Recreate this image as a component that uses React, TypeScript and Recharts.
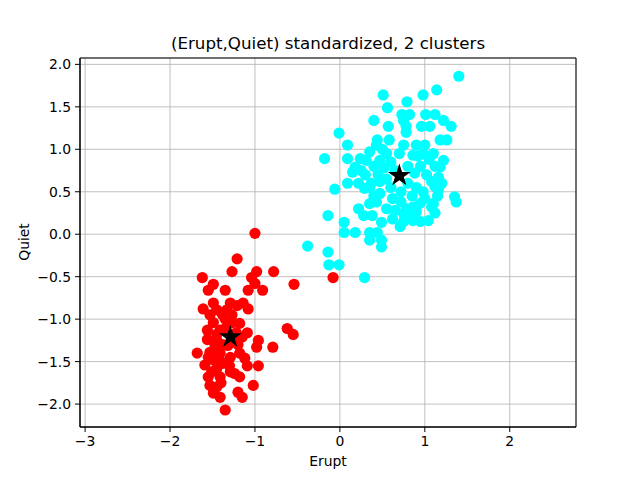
import React from 'react';
import {
  ScatterChart, Scatter, XAxis, YAxis, CartesianGrid, ReferenceArea,
} from 'recharts';

// standardized (Erupt, Quiet) pairs
const redPairs: [number, number][] = [
  [-1.21, -0.29], [-1.62, -0.51], [-1.27, -0.44], [-0.98, -0.44], [-0.78, -0.44],
  [-1.04, -0.51], [-1.49, -0.59], [-1.0, -0.58], [-0.54, -0.59], [-1.55, -0.66],
  [-1.35, -0.66], [-1.08, -0.66], [-0.91, -0.66], [-1.49, -0.81], [-1.29, -0.81],
  [-1.14, -0.81], [-1.61, -0.88], [-1.45, -0.89], [-1.33, -0.89], [-1.21, -0.84],
  [-1.08, -0.88], [-1.53, -0.95], [-1.38, -0.95], [-1.49, -1.04], [-1.26, -1.04],
  [-1.35, -1.11], [-0.62, -1.11], [-0.55, -1.18], [-1.09, -1.16], [-1.15, -1.21],
  [-1.56, -1.24], [-0.96, -1.25], [-1.45, -1.25], [-0.98, -1.33], [-0.79, -1.33],
  [-1.68, -1.4], [-1.53, -1.39], [-1.41, -1.4], [-1.29, -1.45], [-1.18, -1.4],
  [-1.12, -1.46], [-1.49, -1.48], [-1.38, -1.52], [-1.09, -1.55], [-0.96, -1.55],
  [-1.45, -1.58], [-1.29, -1.62], [-1.24, -1.64], [-1.18, -1.68], [-1.55, -1.68],
  [-1.41, -1.68], [-1.53, -1.78], [-1.45, -1.8], [-1.02, -1.78], [-1.2, -1.86],
  [-1.49, -1.87], [-1.41, -1.92], [-1.15, -1.92], [-1.35, -2.07], [-1.0, 0.01],
  [-0.08, -0.51], [-1.56, -1.13], [-1.47, -1.31], [-1.32, -1.31], [-1.24, -1.25],
  [-1.41, -1.13], [-1.59, -1.54], [-1.51, -1.62], [-1.45, -1.18], [-1.38, -1.3],
  [-1.2, -1.3], [-1.35, -1.0], [-1.18, -1.05], [-1.55, -1.45], [-1.3, -1.55],
  [-1.4, -1.75], [-1.27, -0.95], [-1.42, -1.47], [-1.22, -1.16],
];

const cyanPairs: [number, number][] = [
  [1.4, 1.86], [1.14, 1.7], [0.51, 1.64], [0.98, 1.64], [0.79, 1.56], [0.56, 1.49],
  [0.73, 1.41], [0.82, 1.41], [1.01, 1.41], [1.12, 1.41], [0.4, 1.34], [0.75, 1.34],
  [1.22, 1.34], [0.57, 1.27], [0.78, 1.27], [0.96, 1.27], [1.06, 1.27], [1.31, 1.27],
  [-0.01, 1.19], [0.78, 1.2], [0.44, 1.11], [0.58, 1.11], [1.18, 1.11], [1.26, 1.11],
  [0.09, 1.05], [0.43, 1.05], [0.75, 1.05], [0.9, 1.05], [1.0, 1.05], [-0.18, 0.89],
  [0.09, 0.89], [0.24, 0.89], [0.35, 0.97], [0.55, 0.95], [0.86, 0.93], [0.98, 0.95],
  [1.1, 0.95], [0.18, 0.79], [0.31, 0.87], [0.47, 0.87], [1.22, 0.87], [1.18, 0.79],
  [-0.06, 0.53], [0.09, 0.6], [0.22, 0.6], [0.15, 0.73], [0.29, 0.54], [0.37, 0.6],
  [0.47, 0.62], [0.47, 0.48], [0.35, 0.36], [0.22, 0.3], [0.28, 0.22], [0.43, 0.38],
  [-0.14, 0.22], [0.05, 0.14], [0.49, 0.14], [0.05, 0.02], [0.18, 0.02], [0.35, 0.02],
  [0.44, 0.02], [0.35, -0.07], [0.49, -0.07], [0.49, -0.15], [-0.38, -0.14], [-0.14, -0.21],
  [-0.13, -0.36], [-0.01, -0.36], [0.29, -0.51], [1.35, 0.44], [1.37, 0.38], [1.08, 0.32],
  [1.04, 0.16], [0.86, 0.16], [0.71, 0.09], [1.16, 0.67], [1.12, 0.56], [1.16, 0.52],
  [0.94, 0.36], [0.86, 0.32], [1.1, 0.36], [0.75, 0.24], [0.9, 0.26], [0.4, 0.8],
  [0.52, 0.78], [0.6, 0.85], [0.65, 0.75], [0.8, 0.8], [0.88, 0.72], [0.95, 0.8],
  [1.02, 0.7], [1.08, 0.62], [0.55, 0.65], [0.45, 0.7], [0.6, 0.55], [0.72, 0.5],
  [0.8, 0.6], [0.9, 0.55], [0.98, 0.5], [0.85, 0.45], [0.62, 0.42], [0.72, 0.38],
  [0.55, 0.3], [0.65, 0.28], [0.78, 0.3], [1.0, 0.42], [0.35, 0.55], [0.4, 0.45],
  [1.12, 0.8], [1.05, 0.88], [0.92, 0.92], [0.7, 0.95], [0.5, 1.0], [0.3, 0.7],
  [0.25, 0.75], [1.15, 0.45], [1.12, 0.25], [0.95, 0.15], [1.2, 0.6], [0.38, 0.22],
  [0.62, 0.18], [0.75, 0.15], [0.82, 0.2],
];

const centerPairs: [number, number][] = [
  [-1.29, -1.21],
  [0.7, 0.69],
];

const xTicks = [-3, -2, -1, 0, 1, 2];
const yTicks = [-2, -1.5, -1, -0.5, 0, 0.5, 1, 1.5, 2];
const xDomain: [number, number] = [-3.06, 2.78];
const yDomain: [number, number] = [-2.27, 2.075];

const toPoints = (pairs: [number, number][]) => pairs.map(([x, y]) => ({ x, y }));
const redData = toPoints(redPairs);
const cyanData = toPoints(cyanPairs);
const centerData = toPoints(centerPairs);

const minus = (s: string) => s.replace('-', '\u2212');
const font = '"DejaVu Sans", sans-serif';
const tickStyle = { fontSize: 13.9, fill: '#000', fontFamily: font };

const dot = (color: string) => (props: any) => (
  <circle cx={props.cx} cy={props.cy} r={5.6} fill={color} />
);

const Star = (props: any) => {
  const { cx, cy } = props;
  const pts: string[] = [];
  for (let i = 0; i < 10; i++) {
    const r = i % 2 === 0 ? 12 : 4.6;
    const a = -Math.PI / 2 + (i * Math.PI) / 5;
    pts.push(`${cx + r * Math.cos(a)},${cy + r * Math.sin(a)}`);
  }
  return <polygon points={pts.join(' ')} fill="#000" />;
};

export default function App() {
  return (
    <div style={{ position: 'absolute', left: 0, top: 0, width: 640, height: 480, background: '#fff', fontFamily: font }}>
      <div style={{ position: 'absolute', left: 80, width: 496, top: 33, textAlign: 'center', fontSize: 16.7, lineHeight: '20px' }}>
        (Erupt,Quiet) standardized, 2 clusters
      </div>
      <div style={{ position: 'absolute', left: 80, width: 496, top: 452, textAlign: 'center', fontSize: 13.9, lineHeight: '18px' }}>
        Erupt
      </div>
      <div style={{ position: 'absolute', left: 24, top: 242, fontSize: 13.9, lineHeight: '18px', transform: 'translate(-50%, -50%) rotate(-90deg)' }}>
        Quiet
      </div>
      <ScatterChart width={640} height={480} margin={{ top: 58, right: 64, bottom: 23, left: 20 }}>
        <CartesianGrid stroke="#b0b0b0" strokeWidth={0.8} />
        <XAxis
          type="number"
          dataKey="x"
          domain={xDomain}
          ticks={xTicks}
          allowDataOverflow
          height={30}
          tickSize={5}
          tickMargin={4}
          tick={tickStyle}
          tickLine={{ stroke: '#000' }}
          axisLine={{ stroke: '#000' }}
          tickFormatter={(v: number) => minus(String(v))}
        />
        <YAxis
          type="number"
          dataKey="y"
          domain={yDomain}
          ticks={yTicks}
          allowDataOverflow
          width={60}
          tickSize={5}
          tickMargin={4}
          tick={tickStyle}
          tickLine={{ stroke: '#000' }}
          axisLine={{ stroke: '#000' }}
          tickFormatter={(v: number) => minus(v.toFixed(1))}
        />
        <ReferenceArea x1={xDomain[0]} x2={xDomain[1]} y1={yDomain[0]} y2={yDomain[1]} fill="none" stroke="#000" strokeWidth={1} />
        <Scatter data={redData} shape={dot('#ff0000')} isAnimationActive={false} />
        <Scatter data={cyanData} shape={dot('#00ffff')} isAnimationActive={false} />
        <Scatter data={centerData} shape={Star} isAnimationActive={false} />
      </ScatterChart>
    </div>
  );
}
